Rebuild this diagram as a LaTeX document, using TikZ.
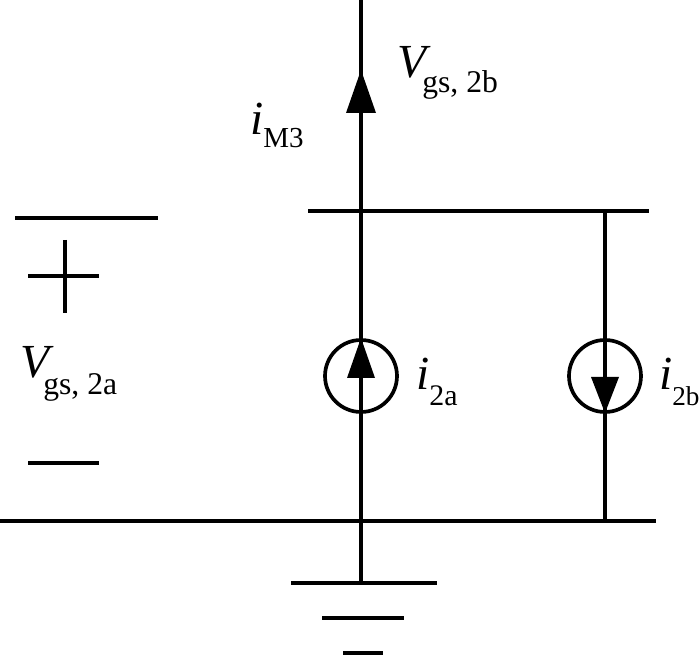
\documentclass[tikz,border=0pt]{standalone}
\usepackage{fontspec}
\setmainfont{Liberation Serif}
\tikzset{
    wire/.style={line width=2.4pt, black},
    source/.style={draw, circle, line width=2.1pt, minimum size=1.44cm, inner sep=0pt},
    mainlab/.style={inner sep=0pt, anchor=base west, font=\fontsize{27}{27}\selectfont\itshape},
    sublab/.style={inner sep=0pt, anchor=base west, font=\fontsize{18}{18}\selectfont},
    smalllab/.style={inner sep=0pt, anchor=base west, font=\fontsize{15.5}{15.5}\selectfont}
}
\begin{document}
\begin{tikzpicture}[x=0.02cm, y=0.02cm]
    \useasboundingbox (0,0) rectangle (700,656);
    % rails
    \coordinate (topend) at (361,656);
    \coordinate (railtopL) at (308,445);
    \coordinate (railtopR) at (649,445);
    \coordinate (railbotL) at (0,135);
    \coordinate (railbotR) at (656,135);
    \coordinate (juncA) at (361,445);
    \coordinate (juncB) at (605,445);
    \coordinate (gndB) at (605,135);
    \coordinate (gnd) at (361,73);
    \draw [wire] (railtopL) -- (railtopR);
    \draw [wire] (railbotL) -- (railbotR);
    % sources
    \node [source] (srcA) at (361,280) {};
    \node [source] (srcB) at (605,280) {};
    \draw [wire] (topend) -- (juncA);
    \draw [wire] (juncA) -- (gnd);
    \draw [wire] (juncB) -- (gndB);
    % arrowheads
    \fill (361,586) -- (346,543) -- (376,543) -- cycle;
    \fill (361,318) -- (347,278) -- (375,278) -- cycle;
    \fill (605,243) -- (591,279) -- (619,279) -- cycle;
    % ground
    \coordinate (g1L) at (291,73);
    \coordinate (g1R) at (437,73);
    \coordinate (g2L) at (322,38);
    \coordinate (g2R) at (404,38);
    \coordinate (g3L) at (343,3);
    \coordinate (g3R) at (383,3);
    \draw [wire] (g1L) -- (g1R);
    \draw [wire] (g2L) -- (g2R);
    \draw [wire] (g3L) -- (g3R);
    % plus and minus
    \coordinate (barL) at (15,438);
    \coordinate (barR) at (158,438);
    \coordinate (plusL) at (28,380);
    \coordinate (plusR) at (99,380);
    \coordinate (plusT) at (65,416);
    \coordinate (plusB) at (65,343);
    \coordinate (minusL) at (28,193);
    \coordinate (minusR) at (99,193);
    \draw [wire] (barL) -- (barR);
    \draw [wire] (plusL) -- (plusR);
    \draw [wire] (plusT) -- (plusB);
    \draw [wire] (minusL) -- (minusR);
    % labels
    \node [mainlab] (vb) at (397,578) {V};
    \node [sublab] (vbsub) at (422,563) {gs, 2b};
    \node [mainlab] (im) at (250,521) {i};
    \node [sublab, font=\fontsize{16.5}{16.5}\selectfont] (imsub) at (263,508) {M3};
    \node [mainlab] (va) at (20,278) {V};
    \node [sublab] (vasub) at (43,261) {gs, 2a};
    \node [mainlab] (ia) at (416,266) {i};
    \node [sublab, font=\fontsize{17}{17}\selectfont] (iasub) at (429,250) {2a};
    \node [mainlab] (ib) at (659,266) {i};
    \node [smalllab] (ibsub) at (672,250) {2b};
\end{tikzpicture}
\end{document}
